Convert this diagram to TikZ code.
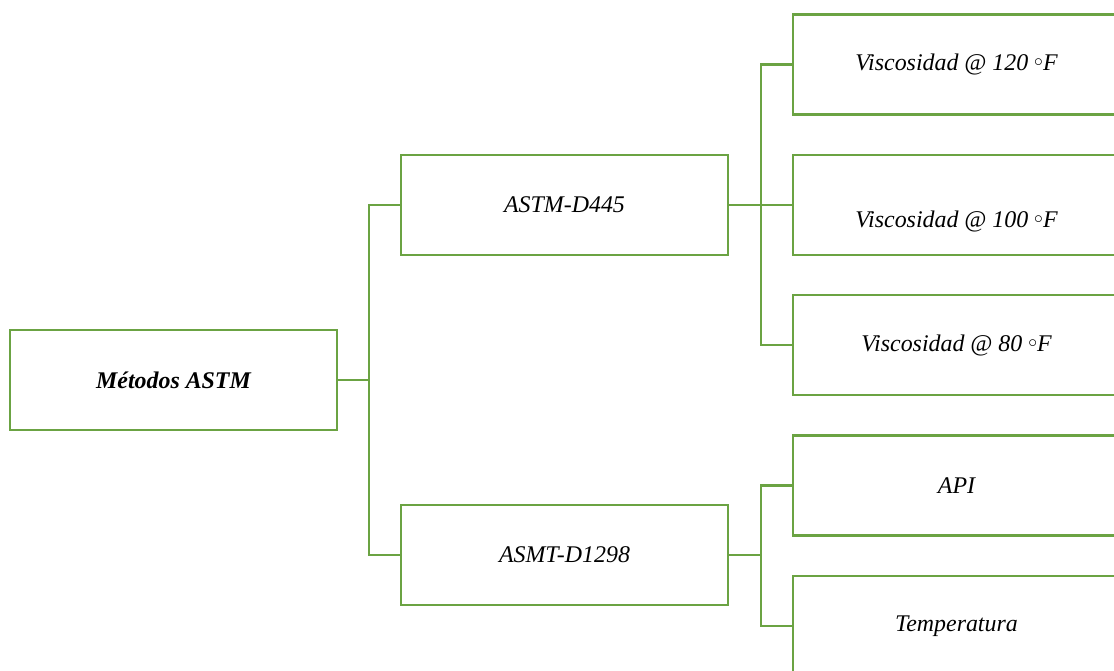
\documentclass[tikz,border=0pt]{standalone}
\usepackage{fontspec}
\setmainfont{Liberation Serif}
\usetikzlibrary{positioning}
\definecolor{ramaverde}{HTML}{6BA343}

\newcommand{\grado}{\raisebox{0.35ex}{$\scriptstyle\circ$}}

\begin{document}
\begin{tikzpicture}[x=0.02cm, y=-0.02cm,
    caja/.style={rectangle, draw=ramaverde, line width=1.6pt, minimum width=6.54cm, minimum height=2cm, inner sep=0pt, font=\fontsize{13.6}{16}\selectfont\itshape},
    rama/.style={draw=ramaverde, line width=1.6pt}]
\useasboundingbox (0,0) rectangle (1114,671);

\node[caja, font=\fontsize{13.6}{16}\selectfont\bfseries\itshape] (metodos) at (173.5,380) {Métodos ASTM};
\node[caja] (d445) at (564.5,205) {ASTM-D445};
\node[caja] (d1298) at (564.5,555) {ASMT-D1298};

\node[caja] (v120) at (956.5,64.5) {Viscosidad @ 120 \grado F};
\node[caja] (v100) at (956.5,205) {\raisebox{-0.32cm}[\height][\depth]{Viscosidad @ 100 \grado F}};
\node[caja] (v80) at (956.5,345) {Viscosidad @ 80 \grado F};
\node[caja] (api) at (956.5,485.5) {API};
\node[caja] (temp) at (956.5,626) {Temperatura};

\coordinate (j1) at (369,380);
\coordinate (j2) at (761,205);
\coordinate (j3) at (761,555);

\draw[rama] (metodos) -- (j1);
\draw[rama] (j1) |- (d445);
\draw[rama] (j1) |- (d1298);
\draw[rama] (d445) -- (j2);
\draw[rama] (j2) |- (v120);
\draw[rama] (j2) -- (v100);
\draw[rama] (j2) |- (v80);
\draw[rama] (d1298) -- (j3);
\draw[rama] (j3) |- (api);
\draw[rama] (j3) |- (temp);
\end{tikzpicture}
\end{document}
